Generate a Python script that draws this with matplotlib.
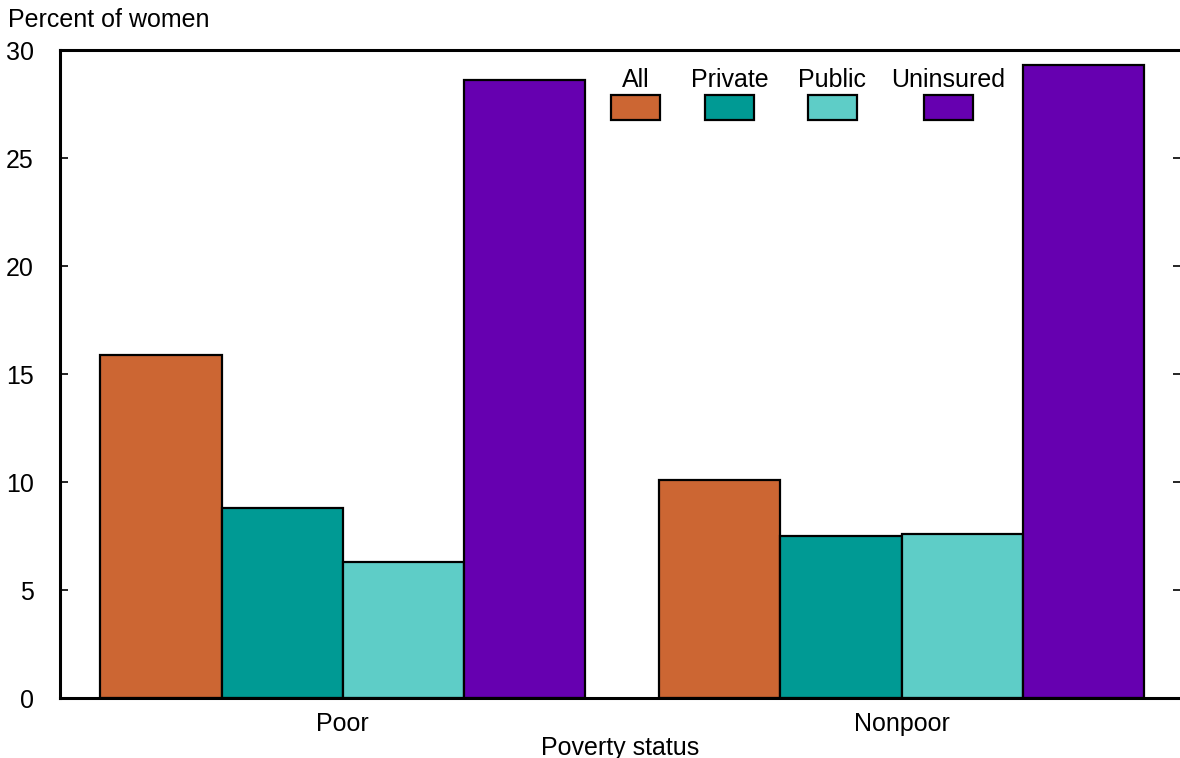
import matplotlib
matplotlib.use('Agg')
import matplotlib.pyplot as plt
from matplotlib.patches import Rectangle
import numpy as np

groups = ['Poor', 'Nonpoor']
series = ['All', 'Private', 'Public', 'Uninsured']
values = {
    'All':       [15.9, 10.1],
    'Private':   [8.8, 7.5],
    'Public':    [6.3, 7.6],
    'Uninsured': [28.6, 29.3],
}
colors = ['#cc6633', '#009a94', '#5ecdc7', '#6600b0']

yticks = [0, 5, 10, 15, 20, 25, 30]

plt.rcParams['font.family'] = ['Liberation Sans', 'DejaVu Sans']
plt.rcParams['font.size'] = 18

fig = plt.figure(figsize=(11.8, 7.58), dpi=100)
ax = fig.add_axes([60/1180, 1 - 698/758, 1121/1180, 648/758])

x = np.arange(len(groups))
w = 0.217
for i, (name, c) in enumerate(zip(series, colors)):
    ax.bar(x + (i - 1.5) * w, values[name], width=w, color=c,
           edgecolor='black', linewidth=1.6, zorder=2)

ax.set_xlim(-0.506, 1.5)
ax.set_ylim(0, 30)
ax.set_yticks(yticks)
ax.set_xticks(x)
ax.set_xticklabels(groups)
ax.set_xlabel('Poverty status', labelpad=0)

for s in ['left', 'bottom', 'top']:
    ax.spines[s].set_linewidth(2.2)
ax.spines['right'].set_visible(False)
ax.tick_params(axis='y', direction='in', length=6, width=1.2, pad=19,
               right=True, left=True)
ax.tick_params(axis='x', length=0, pad=10)

# legend: labels above swatches
leg_x = [611, 705, 808, 924]
for name, c, lx in zip(series, colors, leg_x):
    x0 = (lx - 60) / 1121
    ax.add_patch(Rectangle((x0, (698 - 120) / 648), 49 / 1121, 25 / 648,
                           transform=ax.transAxes, facecolor=c,
                           edgecolor='black', linewidth=1.6, zorder=3,
                           clip_on=False))
    ax.text(x0 + 24.5 / 1121, (698 - 87) / 648, name, transform=ax.transAxes,
            ha='center', va='baseline')

fig.text(8 / 1180, 1 - 27 / 758, 'Percent of women', ha='left', va='baseline')

plt.savefig('out.png', dpi=100)
